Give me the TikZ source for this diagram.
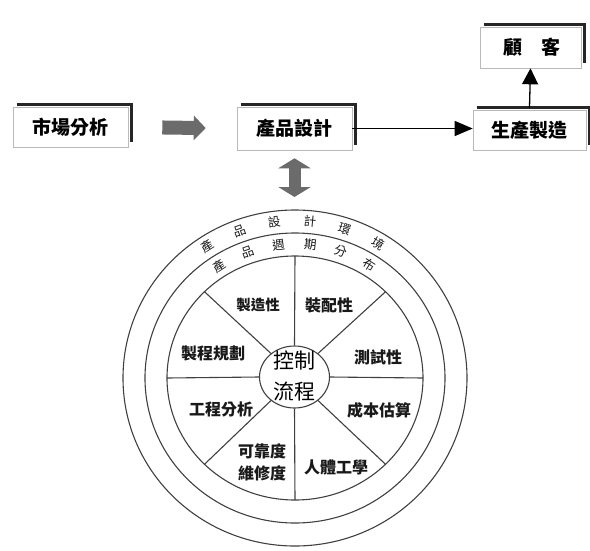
\documentclass[tikz,border=0pt]{standalone}
\usepackage{fontspec}
\setmainfont{Noto Sans CJK TC}
\usetikzlibrary{arrows.meta,calc,shapes.geometric}
\begin{document}
\begin{tikzpicture}[x=1pt,y=-1pt,
  box/.style={draw=gray!55, line width=0.6pt, fill=white, inner sep=0pt,
    font=\fontsize{19}{19}\selectfont\bfseries},
  shadowline/.style={line width=3pt, black!85},
  ln/.style={line width=1.1pt, black!75},
  fatarrow/.style={line width=13pt, black!58},
  thinarrow/.style={line width=1.3pt, black, -{Triangle[length=18pt,width=15pt]}},
  sect/.style={font=\fontsize{16}{16}\selectfont\bfseries, inner sep=0pt, text=black!90},
  ringtxt/.style={font=\fontsize{12.5}{12.5}\selectfont, inner sep=0pt, text=black!90},
  ctr/.style={font=\fontsize{21}{31}\selectfont, align=center, inner sep=0pt}
]
\useasboundingbox (0,0) rectangle (590,550);

% ---- top row boxes ----
\node[box, minimum width=115pt, minimum height=40pt] (m) at (70.5,127) {市場分析};
\node[box, minimum width=115pt, minimum height=43pt] (p) at (294.5,128.5) {產品設計};
\node[box, minimum width=113pt, minimum height=40pt] (s) at (529.5,130) {生產製造};
\node[box, minimum width=101pt, minimum height=41pt] (k) at (530.5,47.5) {\hspace{3pt}顧\hspace{19pt}客};

\foreach \b in {m,p,s,k}{
  \draw[shadowline] ([xshift=4pt,yshift=2pt]\b.north west) -- ([xshift=3pt,yshift=2pt]\b.north east)
    -- ([xshift=3pt,yshift=5pt]\b.south east);
}

% ---- connectors ----
\draw[fatarrow, line width=14pt, shorten <=34pt, shorten >=31pt,
  -{Triangle[length=12pt,width=24pt]}] (m.east) -- (p.west);
\draw[thinarrow] (p.east) -- (p.east -| s.west);
\draw[thinarrow, -{Triangle[length=16pt,width=16pt]}] ([yshift=2pt]s.north) -- (k.south);

\coordinate (O) at (295,378);
\coordinate (ringtop) at (294.5,208);
\draw[fatarrow, line width=12pt, shorten <=8pt, shorten >=11pt,
  {Triangle[length=10pt,width=32pt]}-{Triangle[length=10pt,width=32pt]}] (p.south) -- (ringtop);

% ---- wheel ----
\draw[ln] (O) ellipse [x radius=172pt, y radius=168pt];
\draw[ln] (O) ellipse [x radius=150pt, y radius=145pt];
\draw[ln] (O) ellipse [x radius=128pt, y radius=122pt];

\node[ellipse, draw=black!75, line width=1.1pt, minimum width=70pt, minimum height=62pt,
  inner sep=0pt] (c) at (294.5,377) {};
\foreach \a in {0,45,...,315}{
  \draw[ln] (c.\a) -- ($(O)+(\a:128pt and 122pt)$);
}
\node[ctr] (ct) at (294,376) {控制\\流程};

% ring texts
\foreach \ch [count=\i] in {產,品,設,計,環,境}{
  \pgfmathsetmacro\ang{123-(\i-1)*12.8}
  \node[ringtxt, rotate=\ang-90] (o\i) at ($(O)+(\ang:161pt and 157pt)$) {\ch};
}
\foreach \ch [count=\i] in {產,品,週,期,分,布}{
  \pgfmathsetmacro\ang{123-(\i-1)*13.1}
  \node[ringtxt, rotate=\ang-90] (n\i) at ($(O)+(\ang:139pt and 134pt)$) {\ch};
}

% sector labels
\node[sect, font=\fontsize{14.5}{14.5}\selectfont\bfseries] (l1) at (258,305) {製造性};
\node[sect] (l2) at (329,305) {裝配性};
\node[sect] (l3) at (213,353) {製程規劃};
\node[sect] (l4) at (378,357) {測試性};
\node[sect] (l5) at (221,409) {工程分析};
\node[sect] (l6) at (379,410) {成本估算};
\node[sect, align=center, font=\fontsize{16}{22}\selectfont\bfseries] (l7) at (262,462) {可靠度\\維修度};
\node[sect] (l8) at (336,467) {人體工學};
\end{tikzpicture}
\end{document}
